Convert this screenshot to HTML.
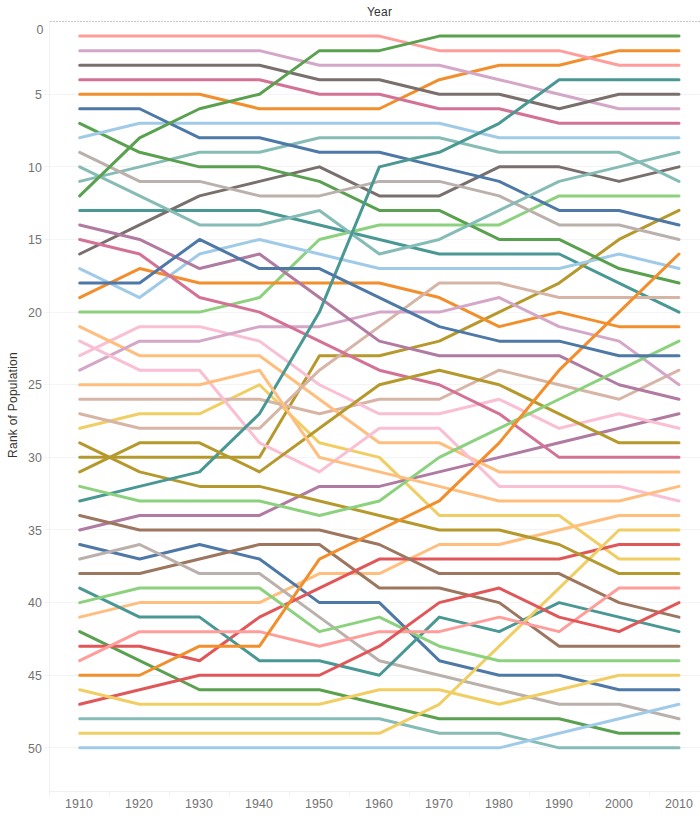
<!DOCTYPE html>
<html><head><meta charset="utf-8"><title>Rank of Population</title>
<style>
html,body{margin:0;padding:0;background:#fff;}
body{width:700px;height:816px;overflow:hidden;font-family:"Liberation Sans",sans-serif;}
svg{display:block}
.t{font-family:"Liberation Sans",sans-serif;font-size:12.4px;fill:#727272;}
.x{letter-spacing:0.1px}
.h{font-family:"Liberation Sans",sans-serif;font-size:12px;fill:#333;letter-spacing:0.25px}
.l polyline{fill:none;stroke-width:3;stroke-linecap:round;stroke-linejoin:round;}
</style></head><body>
<svg width="700" height="816" viewBox="0 0 700 816">
<rect width="700" height="816" fill="#fff"/>
<g shape-rendering="crispEdges">
<line x1="44" x2="700" y1="94.50" y2="94.50" stroke="#f4f4f4" stroke-width="1"/>
<line x1="44" x2="700" y1="166.50" y2="166.50" stroke="#f4f4f4" stroke-width="1"/>
<line x1="44" x2="700" y1="239.50" y2="239.50" stroke="#f4f4f4" stroke-width="1"/>
<line x1="44" x2="700" y1="312.50" y2="312.50" stroke="#f4f4f4" stroke-width="1"/>
<line x1="44" x2="700" y1="384.50" y2="384.50" stroke="#f4f4f4" stroke-width="1"/>
<line x1="44" x2="700" y1="457.50" y2="457.50" stroke="#f4f4f4" stroke-width="1"/>
<line x1="44" x2="700" y1="529.50" y2="529.50" stroke="#f4f4f4" stroke-width="1"/>
<line x1="44" x2="700" y1="602.50" y2="602.50" stroke="#f4f4f4" stroke-width="1"/>
<line x1="44" x2="700" y1="675.50" y2="675.50" stroke="#f4f4f4" stroke-width="1"/>
<line x1="44" x2="700" y1="747.50" y2="747.50" stroke="#f4f4f4" stroke-width="1"/>
<line x1="49.5" x2="49.5" y1="21" y2="791.5" stroke="#f0f0f0" stroke-width="1"/>
<line x1="49" x2="700" y1="791" y2="791" stroke="#f0f0f0" stroke-width="1"/>
<line x1="49.5" x2="49.5" y1="791" y2="796" stroke="#f0f0f0" stroke-width="1"/>
<line x1="109.5" x2="109.5" y1="791" y2="796" stroke="#f0f0f0" stroke-width="1"/>
<line x1="169.5" x2="169.5" y1="791" y2="796" stroke="#f0f0f0" stroke-width="1"/>
<line x1="229.5" x2="229.5" y1="791" y2="796" stroke="#f0f0f0" stroke-width="1"/>
<line x1="289.5" x2="289.5" y1="791" y2="796" stroke="#f0f0f0" stroke-width="1"/>
<line x1="349.5" x2="349.5" y1="791" y2="796" stroke="#f0f0f0" stroke-width="1"/>
<line x1="409.5" x2="409.5" y1="791" y2="796" stroke="#f0f0f0" stroke-width="1"/>
<line x1="469.5" x2="469.5" y1="791" y2="796" stroke="#f0f0f0" stroke-width="1"/>
<line x1="529.5" x2="529.5" y1="791" y2="796" stroke="#f0f0f0" stroke-width="1"/>
<line x1="589.5" x2="589.5" y1="791" y2="796" stroke="#f0f0f0" stroke-width="1"/>
<line x1="649.5" x2="649.5" y1="791" y2="796" stroke="#f0f0f0" stroke-width="1"/>
<line x1="709.5" x2="709.5" y1="791" y2="796" stroke="#f0f0f0" stroke-width="1"/>
<line x1="50" x2="700" y1="21.5" y2="21.5" stroke="#c9c9c9" stroke-width="1" stroke-dasharray="2 1"/>
</g>
<g class="l">
<polyline points="79.70,718.80 139.63,718.80 199.56,718.80 259.49,718.80 319.42,718.80 379.35,718.80 439.28,733.33 499.21,733.33 559.14,747.85 619.07,747.85 679.00,747.85" stroke="#86BCB6"/>
<polyline points="79.70,210.43 139.63,210.43 199.56,210.43 259.49,210.43 319.42,224.95 379.35,239.47 439.28,254.00 499.21,254.00 559.14,254.00 619.07,283.05 679.00,312.10" stroke="#499894"/>
<polyline points="79.70,428.30 139.63,413.78 199.56,413.78 259.49,384.73 319.42,442.83 379.35,457.35 439.28,515.45 499.21,515.45 559.14,515.45 619.07,559.03 679.00,559.03" stroke="#F1CE63"/>
<polyline points="79.70,457.35 139.63,457.35 199.56,457.35 259.49,457.35 319.42,355.68 379.35,355.68 439.28,341.15 499.21,312.10 559.14,283.05 619.07,239.47 679.00,210.43" stroke="#B6992D"/>
<polyline points="79.70,312.10 139.63,312.10 199.56,312.10 259.49,297.58 319.42,239.47 379.35,224.95 439.28,224.95 499.21,224.95 559.14,195.90 619.07,195.90 679.00,195.90" stroke="#8CD17D"/>
<polyline points="79.70,631.65 139.63,660.70 199.56,689.75 259.49,689.75 319.42,689.75 379.35,704.28 439.28,718.80 499.21,718.80 559.14,718.80 619.07,733.33 679.00,733.33" stroke="#59A14F"/>
<polyline points="79.70,617.12 139.63,602.60 199.56,602.60 259.49,602.60 319.42,573.55 379.35,573.55 439.28,544.50 499.21,544.50 559.14,529.98 619.07,515.45 679.00,515.45" stroke="#FFBE7D"/>
<polyline points="79.70,94.22 139.63,94.22 199.56,94.22 259.49,108.75 319.42,108.75 379.35,108.75 439.28,79.70 499.21,65.18 559.14,65.18 619.07,50.65 679.00,50.65" stroke="#F28E2B"/>
<polyline points="79.70,268.53 139.63,297.58 199.56,254.00 259.49,239.47 319.42,254.00 379.35,268.53 439.28,268.53 499.21,268.53 559.14,268.53 619.07,254.00 679.00,268.53" stroke="#A0CBE8"/>
<polyline points="79.70,544.50 139.63,559.03 199.56,544.50 259.49,559.03 319.42,602.60 379.35,602.60 439.28,660.70 499.21,675.23 559.14,675.23 619.07,689.75 679.00,689.75" stroke="#4E79A7"/>
<polyline points="79.70,399.25 139.63,399.25 199.56,399.25 259.49,399.25 319.42,413.78 379.35,399.25 439.28,399.25 499.21,370.20 559.14,384.73 619.07,399.25 679.00,370.20" stroke="#D7B5A6"/>
<polyline points="79.70,573.55 139.63,573.55 199.56,559.03 259.49,544.50 319.42,544.50 379.35,588.08 439.28,588.08 499.21,602.60 559.14,646.18 619.07,646.18 679.00,646.18" stroke="#9D7660"/>
<polyline points="79.70,50.65 139.63,50.65 199.56,50.65 259.49,50.65 319.42,65.18 379.35,65.18 439.28,65.18 499.21,79.70 559.14,94.22 619.07,108.75 679.00,108.75" stroke="#D4A6C8"/>
<polyline points="79.70,529.98 139.63,515.45 199.56,515.45 259.49,515.45 319.42,486.40 379.35,486.40 439.28,471.88 499.21,457.35 559.14,442.83 619.07,428.30 679.00,413.78" stroke="#B07AA1"/>
<polyline points="79.70,355.68 139.63,326.63 199.56,326.63 259.49,341.15 319.42,384.73 379.35,413.78 439.28,413.78 499.21,399.25 559.14,428.30 619.07,413.78 679.00,428.30" stroke="#FABFD2"/>
<polyline points="79.70,79.70 139.63,79.70 199.56,79.70 259.49,79.70 319.42,94.22 379.35,94.22 439.28,108.75 499.21,108.75 559.14,123.28 619.07,123.28 679.00,123.28" stroke="#D37295"/>
<polyline points="79.70,559.03 139.63,544.50 199.56,573.55 259.49,573.55 319.42,617.12 379.35,660.70 439.28,675.23 499.21,689.75 559.14,704.28 619.07,704.28 679.00,718.80" stroke="#BAB0AC"/>
<polyline points="79.70,254.00 139.63,224.95 199.56,195.90 259.49,181.38 319.42,166.85 379.35,195.90 439.28,195.90 499.21,166.85 559.14,166.85 619.07,181.38 679.00,166.85" stroke="#79706E"/>
<polyline points="79.70,36.12 139.63,36.12 199.56,36.12 259.49,36.12 319.42,36.12 379.35,36.12 439.28,50.65 499.21,50.65 559.14,50.65 619.07,65.18 679.00,65.18" stroke="#FF9D9A"/>
<polyline points="79.70,646.18 139.63,646.18 199.56,660.70 259.49,617.12 319.42,588.08 379.35,559.03 439.28,559.03 499.21,559.03 559.14,559.03 619.07,544.50 679.00,544.50" stroke="#E15759"/>
<polyline points="79.70,181.38 139.63,166.85 199.56,152.32 259.49,152.32 319.42,137.80 379.35,137.80 439.28,137.80 499.21,152.32 559.14,152.32 619.07,152.32 679.00,181.38" stroke="#86BCB6"/>
<polyline points="79.70,588.08 139.63,617.12 199.56,617.12 259.49,660.70 319.42,660.70 379.35,675.23 439.28,617.12 499.21,631.65 559.14,602.60 619.07,617.12 679.00,631.65" stroke="#499894"/>
<polyline points="79.70,733.33 139.63,733.33 199.56,733.33 259.49,733.33 319.42,733.33 379.35,733.33 439.28,704.28 499.21,646.18 559.14,588.08 619.07,529.98 679.00,529.98" stroke="#F1CE63"/>
<polyline points="79.70,442.83 139.63,471.88 199.56,486.40 259.49,486.40 319.42,500.93 379.35,515.45 439.28,529.98 499.21,529.98 559.14,544.50 619.07,573.55 679.00,573.55" stroke="#B6992D"/>
<polyline points="79.70,602.60 139.63,588.08 199.56,588.08 259.49,588.08 319.42,631.65 379.35,617.12 439.28,646.18 499.21,660.70 559.14,660.70 619.07,660.70 679.00,660.70" stroke="#8CD17D"/>
<polyline points="79.70,123.28 139.63,152.32 199.56,166.85 259.49,166.85 319.42,181.38 379.35,210.43 439.28,210.43 499.21,239.47 559.14,239.47 619.07,268.53 679.00,283.05" stroke="#59A14F"/>
<polyline points="79.70,326.63 139.63,355.68 199.56,355.68 259.49,355.68 319.42,399.25 379.35,442.83 439.28,442.83 499.21,471.88 559.14,471.88 619.07,471.88 679.00,471.88" stroke="#FFBE7D"/>
<polyline points="79.70,297.58 139.63,268.53 199.56,283.05 259.49,283.05 319.42,283.05 379.35,283.05 439.28,297.58 499.21,326.63 559.14,312.10 619.07,326.63 679.00,326.63" stroke="#F28E2B"/>
<polyline points="79.70,137.80 139.63,123.28 199.56,123.28 259.49,123.28 319.42,123.28 379.35,123.28 439.28,123.28 499.21,137.80 559.14,137.80 619.07,137.80 679.00,137.80" stroke="#A0CBE8"/>
<polyline points="79.70,108.75 139.63,108.75 199.56,137.80 259.49,137.80 319.42,152.32 379.35,152.32 439.28,166.85 499.21,181.38 559.14,210.43 619.07,210.43 679.00,224.95" stroke="#4E79A7"/>
<polyline points="79.70,413.78 139.63,428.30 199.56,428.30 259.49,428.30 319.42,370.20 379.35,326.63 439.28,283.05 499.21,283.05 559.14,297.58 619.07,297.58 679.00,297.58" stroke="#D7B5A6"/>
<polyline points="79.70,515.45 139.63,529.98 199.56,529.98 259.49,529.98 319.42,529.98 379.35,544.50 439.28,573.55 499.21,573.55 559.14,573.55 619.07,602.60 679.00,617.12" stroke="#9D7660"/>
<polyline points="79.70,370.20 139.63,341.15 199.56,341.15 259.49,326.63 319.42,326.63 379.35,312.10 439.28,312.10 499.21,297.58 559.14,326.63 619.07,341.15 679.00,384.73" stroke="#D4A6C8"/>
<polyline points="79.70,224.95 139.63,239.47 199.56,268.53 259.49,254.00 319.42,297.58 379.35,341.15 439.28,355.68 499.21,355.68 559.14,355.68 619.07,384.73 679.00,399.25" stroke="#B07AA1"/>
<polyline points="79.70,341.15 139.63,370.20 199.56,370.20 259.49,442.83 319.42,471.88 379.35,428.30 439.28,428.30 499.21,486.40 559.14,486.40 619.07,486.40 679.00,500.93" stroke="#FABFD2"/>
<polyline points="79.70,239.47 139.63,254.00 199.56,297.58 259.49,312.10 319.42,341.15 379.35,370.20 439.28,384.73 499.21,413.78 559.14,457.35 619.07,457.35 679.00,457.35" stroke="#D37295"/>
<polyline points="79.70,152.32 139.63,181.38 199.56,181.38 259.49,195.90 319.42,195.90 379.35,181.38 439.28,181.38 499.21,195.90 559.14,224.95 619.07,224.95 679.00,239.47" stroke="#BAB0AC"/>
<polyline points="79.70,65.18 139.63,65.18 199.56,65.18 259.49,65.18 319.42,79.70 379.35,79.70 439.28,94.22 499.21,94.22 559.14,108.75 619.07,94.22 679.00,94.22" stroke="#79706E"/>
<polyline points="79.70,660.70 139.63,631.65 199.56,631.65 259.49,631.65 319.42,646.18 379.35,631.65 439.28,631.65 499.21,617.12 559.14,631.65 619.07,588.08 679.00,588.08" stroke="#FF9D9A"/>
<polyline points="79.70,704.28 139.63,689.75 199.56,675.23 259.49,675.23 319.42,675.23 379.35,646.18 439.28,602.60 499.21,588.08 559.14,617.12 619.07,631.65 679.00,602.60" stroke="#E15759"/>
<polyline points="79.70,166.85 139.63,195.90 199.56,224.95 259.49,224.95 319.42,210.43 379.35,254.00 439.28,239.47 499.21,210.43 559.14,181.38 619.07,166.85 679.00,152.32" stroke="#86BCB6"/>
<polyline points="79.70,500.93 139.63,486.40 199.56,471.88 259.49,413.78 319.42,312.10 379.35,166.85 439.28,152.32 499.21,123.28 559.14,79.70 619.07,79.70 679.00,79.70" stroke="#499894"/>
<polyline points="79.70,689.75 139.63,704.28 199.56,704.28 259.49,704.28 319.42,704.28 379.35,689.75 439.28,689.75 499.21,704.28 559.14,689.75 619.07,675.23 679.00,675.23" stroke="#F1CE63"/>
<polyline points="79.70,471.88 139.63,442.83 199.56,442.83 259.49,471.88 319.42,428.30 379.35,384.73 439.28,370.20 499.21,384.73 559.14,413.78 619.07,442.83 679.00,442.83" stroke="#B6992D"/>
<polyline points="79.70,486.40 139.63,500.93 199.56,500.93 259.49,500.93 319.42,515.45 379.35,500.93 439.28,457.35 499.21,428.30 559.14,399.25 619.07,370.20 679.00,341.15" stroke="#8CD17D"/>
<polyline points="79.70,195.90 139.63,137.80 199.56,108.75 259.49,94.22 319.42,50.65 379.35,50.65 439.28,36.12 499.21,36.12 559.14,36.12 619.07,36.12 679.00,36.12" stroke="#59A14F"/>
<polyline points="79.70,384.73 139.63,384.73 199.56,384.73 259.49,370.20 319.42,457.35 379.35,471.88 439.28,486.40 499.21,500.93 559.14,500.93 619.07,500.93 679.00,486.40" stroke="#FFBE7D"/>
<polyline points="79.70,675.23 139.63,675.23 199.56,646.18 259.49,646.18 319.42,559.03 379.35,529.98 439.28,500.93 499.21,442.83 559.14,370.20 619.07,312.10 679.00,254.00" stroke="#F28E2B"/>
<polyline points="79.70,747.85 139.63,747.85 199.56,747.85 259.49,747.85 319.42,747.85 379.35,747.85 439.28,747.85 499.21,747.85 559.14,733.33 619.07,718.80 679.00,704.28" stroke="#A0CBE8"/>
<polyline points="79.70,283.05 139.63,283.05 199.56,239.47 259.49,268.53 319.42,268.53 379.35,297.58 439.28,326.63 499.21,341.15 559.14,341.15 619.07,355.68 679.00,355.68" stroke="#4E79A7"/>
</g>
<text x="43.4" y="34.05" text-anchor="end" class="t">0</text>
<text x="41.9" y="98.92" text-anchor="end" class="t">5</text>
<text x="41.9" y="171.55" text-anchor="end" class="t">10</text>
<text x="41.9" y="244.17" text-anchor="end" class="t">15</text>
<text x="41.9" y="316.80" text-anchor="end" class="t">20</text>
<text x="41.9" y="389.43" text-anchor="end" class="t">25</text>
<text x="41.9" y="462.05" text-anchor="end" class="t">30</text>
<text x="41.9" y="534.68" text-anchor="end" class="t">35</text>
<text x="41.9" y="607.30" text-anchor="end" class="t">40</text>
<text x="41.9" y="679.93" text-anchor="end" class="t">45</text>
<text x="41.9" y="752.55" text-anchor="end" class="t">50</text>
<text x="79.10" y="808.2" text-anchor="middle" class="t x">1910</text>
<text x="139.10" y="808.2" text-anchor="middle" class="t x">1920</text>
<text x="199.10" y="808.2" text-anchor="middle" class="t x">1930</text>
<text x="259.10" y="808.2" text-anchor="middle" class="t x">1940</text>
<text x="319.10" y="808.2" text-anchor="middle" class="t x">1950</text>
<text x="379.10" y="808.2" text-anchor="middle" class="t x">1960</text>
<text x="439.10" y="808.2" text-anchor="middle" class="t x">1970</text>
<text x="499.10" y="808.2" text-anchor="middle" class="t x">1980</text>
<text x="559.10" y="808.2" text-anchor="middle" class="t x">1990</text>
<text x="619.10" y="808.2" text-anchor="middle" class="t x">2000</text>
<text x="679.10" y="808.2" text-anchor="middle" class="t x">2010</text>
<text x="379.5" y="16" text-anchor="middle" class="h">Year</text>
<text transform="translate(17,405) rotate(-90)" text-anchor="middle" class="h">Rank of Population</text>
</svg>
</body></html>
